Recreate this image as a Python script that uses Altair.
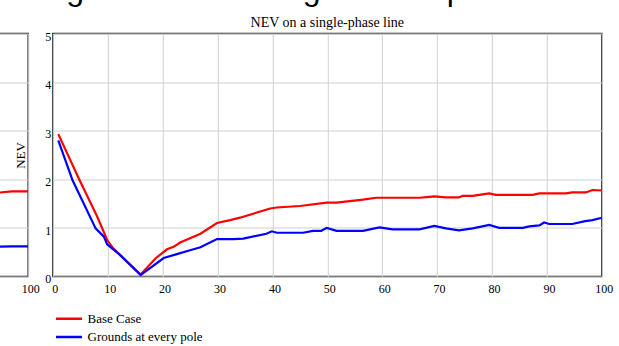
import altair as alt
import pandas as pd

# ---- data ----
series = ["Base Case", "Grounds at every pole"]
colors = ["#ff0000", "#0000ff"]

base_x = [1, 4.8, 8.1, 9.9, 11, 12.9, 16, 18.7, 20.8, 22, 23.2, 26.9, 29.9, 32.3, 34.1,
          39.6, 40.8, 45, 49.9, 51.7, 56.5, 58.9, 66.8, 68.6, 69.5, 71.6, 74, 74.7, 76.5,
          79.5, 80.7, 87.4, 88.6, 93.5, 94.6, 97.1, 98.3, 100]
base_v = [2.93, 2.00, 1.23, 0.75, 0.58, 0.37, 0.04, 0.37, 0.56, 0.61, 0.70, 0.88, 1.10, 1.16, 1.21,
          1.40, 1.42, 1.45, 1.52, 1.52, 1.58, 1.62, 1.62, 1.64, 1.65, 1.63, 1.63, 1.66, 1.66,
          1.71, 1.68, 1.68, 1.71, 1.71, 1.73, 1.73, 1.78, 1.77]

gnd_x = [1, 3.6, 7.8, 9.3, 9.9, 12.3, 16, 16.6, 20.2, 22.6, 25, 26.9, 29.9, 32.9, 34.7,
         38.9, 39.9, 40.8, 45.6, 47.4, 48.9, 49.9, 51.7, 56.5, 59.5, 61.9, 66.8, 69.5, 71.6,
         74, 76.5, 79.5, 81.3, 85.6, 86.8, 88.6, 89.5, 90.4, 94.6, 97, 98.3, 100]
gnd_v = [2.80, 1.98, 0.99, 0.82, 0.66, 0.44, 0.03, 0.08, 0.38, 0.46, 0.54, 0.60, 0.77, 0.77, 0.78,
         0.88, 0.93, 0.90, 0.90, 0.94, 0.94, 1.00, 0.94, 0.94, 1.01, 0.97, 0.97, 1.04, 0.99,
         0.95, 0.99, 1.06, 1.00, 1.00, 1.03, 1.05, 1.11, 1.08, 1.08, 1.14, 1.16, 1.21]

# neighbouring (cropped) panel, only its right end is visible
left_x = [85, 90, 94, 97, 100]
left_base = [1.71, 1.71, 1.72, 1.75, 1.75]
left_gnd = [0.60, 0.60, 0.61, 0.62, 0.62]
left_ticks = [100]

x_ticks = list(range(0, 101, 10))
y_ticks = [0, 1, 2, 3, 4, 5]

main_df = pd.concat([
    pd.DataFrame({"x": base_x, "v": base_v, "series": series[0]}),
    pd.DataFrame({"x": gnd_x, "v": gnd_v, "series": series[1]}),
])
left_df = pd.concat([
    pd.DataFrame({"x": left_x, "v": left_base, "series": series[0], "col": colors[0]}),
    pd.DataFrame({"x": left_x, "v": left_gnd, "series": series[1], "col": colors[1]}),
])

serif = "Liberation Serif"
W, H = 549, 243

xaxis = dict(title=None, labelFont=serif, labelFontSize=12, labelColor="black",
             ticks=False, tickSize=0, domain=False, labelPadding=7, labelOffset=2,
             gridColor="#d0d0d0", gridWidth=1, labelFlush=False)

left = alt.Chart(left_df).mark_line(strokeWidth=2.2, clip=True).encode(
    x=alt.X("x:Q", scale=alt.Scale(domain=[0, 100], nice=False),
            axis=alt.Axis(values=left_ticks, **xaxis)),
    y=alt.Y("v:Q", scale=alt.Scale(domain=[0, 5], nice=False),
            axis=alt.Axis(values=y_ticks, labels=False, ticks=False, domain=False, title=None,
                          gridColor="#d0d0d0", gridWidth=1)),
    color=alt.Color("col:N", scale=None),
    detail="series:N",
).properties(width=W, height=H)

main = alt.Chart(main_df).mark_line(strokeWidth=2.2, clip=True).encode(
    x=alt.X("x:Q", scale=alt.Scale(domain=[0, 100], nice=False),
            axis=alt.Axis(values=x_ticks, **xaxis)),
    y=alt.Y("v:Q", scale=alt.Scale(domain=[0, 5], nice=False),
            axis=alt.Axis(values=y_ticks, title="NEV", labelFont=serif, labelFontSize=12,
                          labelColor="black", ticks=False, tickSize=0, domain=False,
                          labelPadding=2, labelOffset=2.5, gridColor="#d0d0d0", gridWidth=1,
                          titleFont=serif, titleFontSize=13, titleFontWeight="normal",
                          titleColor="black", titleX=-28, titleY=H / 2, titleAngle=270,
                          titleBaseline="alphabetic", titleAlign="center")),
    color=alt.Color("series:N", scale=alt.Scale(domain=series, range=colors),
                    legend=alt.Legend(title=None, orient="none", legendX=575.3, legendY=278.6,
                                      symbolType="stroke", symbolSize=676, symbolStrokeWidth=2.5,
                                      labelFont=serif, labelFontSize=13, labelColor="black",
                                      rowPadding=4.3, labelOffset=4, padding=0, clipHeight=13.4)),
).properties(width=W, height=H,
             title=alt.TitleParams("NEV on a single-phase line", font=serif, fontSize=14,
                                   fontWeight="normal", color="black", baseline="bottom",
                                   offset=-14, anchor="middle"))

chart = alt.hconcat(left, main, spacing=24.6, bounds="flush").properties(
    title=alt.TitleParams("grounds at all ungrounded poles", font="Liberation Sans", fontSize=32,
                          fontWeight="normal", color="black", baseline="bottom",
                          offset=-23.5, anchor="middle", dx=248.8),
    padding={"left": -521.8, "top": -26.5, "right": 0, "bottom": 0},
).configure_view(
    stroke="#222222", strokeWidth=1.5
).configure_axis(
    labelFont=serif, titleFont=serif
).configure_legend(
    labelFont=serif
)

chart.save("out.html", embed_options={"renderer": "svg", "actions": False})
